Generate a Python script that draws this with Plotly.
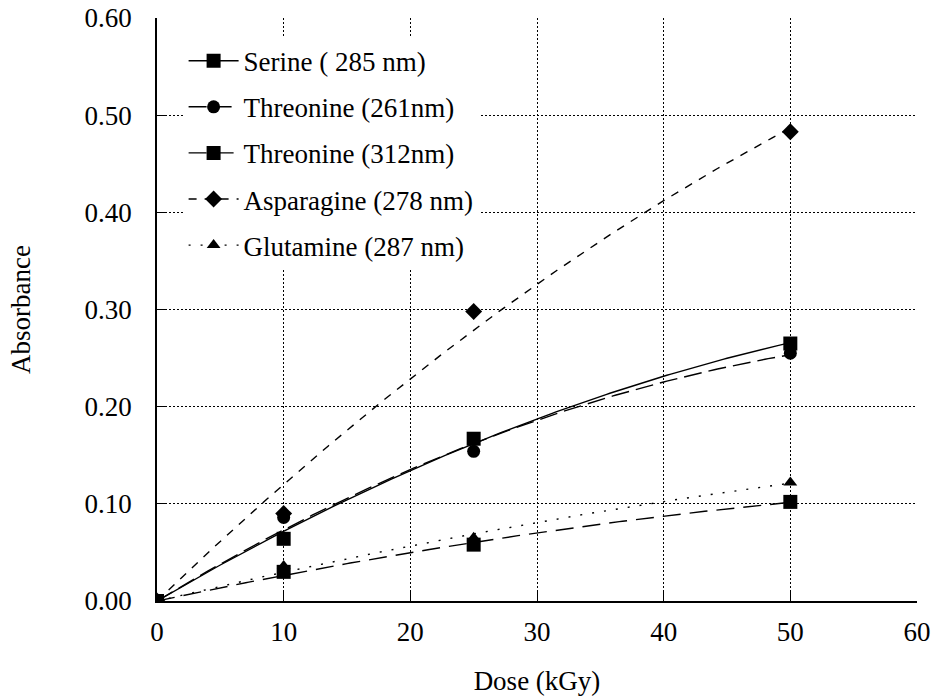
import numpy as np
import plotly.graph_objects as go

dose = [0, 10, 25, 50]
serine_285 = [0.0, 0.064, 0.167, 0.265]
threonine_261 = [0.0, 0.086, 0.154, 0.255]
threonine_312 = [0.0, 0.030, 0.058, 0.102]
asparagine_278 = [0.0, 0.090, 0.298, 0.483]
glutamine_287 = [0.0, 0.036, 0.065, 0.122]

series = [
    ("Serine ( 285 nm)", serine_285, "square", 14, "solid"),
    ("Threonine (261nm)", threonine_261, "circle", 13, "18px,7px"),
    ("Threonine (312nm)", threonine_312, "square", 14, "18px,9px"),
    ("Asparagine (278 nm)", asparagine_278, "diamond", 13, "8px,8px"),
    ("Glutamine (287 nm)", glutamine_287, "triangle-up", 12, "2px,10px"),
]

FONT = "Liberation Serif, Times New Roman, serif"
FS = 27

def quad_fit_origin(x, y):
    x = np.asarray(x, float)
    y = np.asarray(y, float)
    A = np.column_stack([x, x ** 2])
    coef, *_ = np.linalg.lstsq(A, y, rcond=None)
    return coef

fig = go.Figure()
xs = np.linspace(0, 50, 201)
for i, (name, vals, sym, msz, dash) in enumerate(series):
    a, b = quad_fit_origin(dose, vals)
    fig.add_trace(go.Scatter(x=xs, y=a * xs + b * xs ** 2, mode="lines",
                             line=dict(color="black", width=1.4, dash=dash),
                             showlegend=False, hoverinfo="skip"))
    fig.add_trace(go.Scatter(x=dose, y=vals, mode="markers",
                             marker=dict(symbol=sym, size=msz, color="black"),
                             showlegend=False))
    fig.add_trace(go.Scatter(x=[None], y=[None], mode="lines+markers", name=name,
                             legendgroup=f"g{i}",
                             line=dict(color="black", width=1.4, dash=dash),
                             marker=dict(symbol=sym, size=msz, color="black")))

fig.update_layout(
    width=933, height=696,
    margin=dict(l=157, r=16, t=18, b=95),
    paper_bgcolor="white", plot_bgcolor="white",
    font=dict(family=FONT, size=FS, color="black"),
    showlegend=True,
    legend=dict(x=0.035, y=0.968, xanchor="left", yanchor="top",
                bgcolor="white", borderwidth=0, itemwidth=50,
                tracegroupgap=8, traceorder="grouped",
                font=dict(family=FONT, size=FS, color="black")),
    xaxis=dict(range=[0, 60], dtick=10, tick0=0, automargin=False,
               showgrid=True, gridcolor="black", griddash="2px,2px", gridwidth=1.2,
               showline=True, linecolor="black", linewidth=1.5,
               ticks="inside", ticklen=9, tickcolor="black", tickwidth=1.2,
               zeroline=False, ticklabelstandoff=6,
               title=dict(text="Dose (kGy)", standoff=32,
                          font=dict(family=FONT, size=FS))),
    yaxis=dict(range=[0, 0.6], dtick=0.1, tick0=0, tickformat=".2f", automargin=False,
               showgrid=True, gridcolor="black", griddash="2px,2px", gridwidth=1.2,
               showline=True, linecolor="black", linewidth=1.5,
               ticks="inside", ticklen=9, tickcolor="black", tickwidth=1.2,
               zeroline=False, ticklabelstandoff=18,
               title=dict(text="Absorbance", standoff=46,
                          font=dict(family=FONT, size=FS))),
)

fig.write_html("out.html")
